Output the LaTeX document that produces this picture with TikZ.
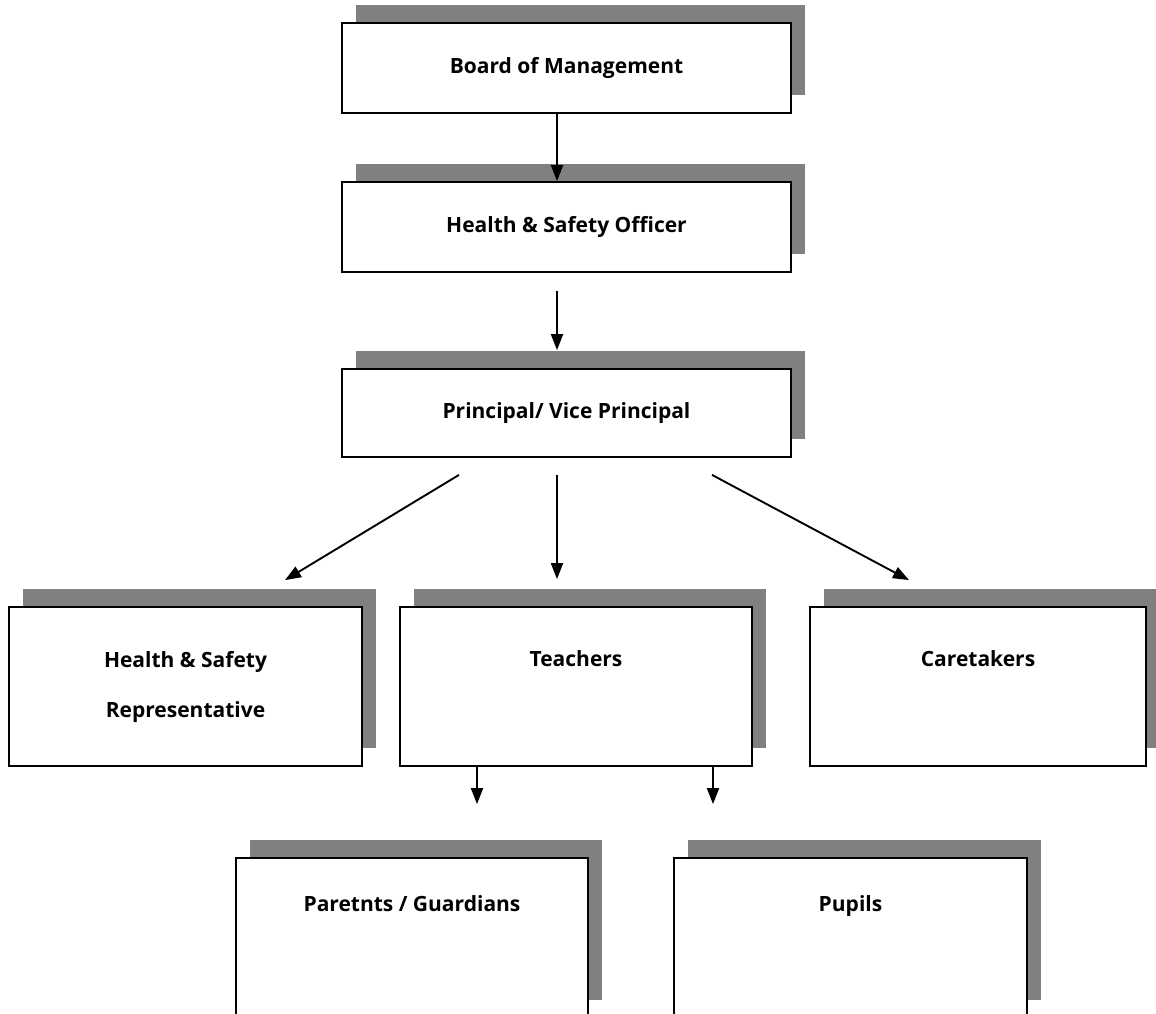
\documentclass[tikz,border=0pt]{standalone}
\usepackage{fontspec}
\setmainfont{Open Sans}
\usetikzlibrary{shadows,arrows.meta}
\definecolor{shadowgray}{HTML}{808080}
\tikzset{
  box/.style={draw=black, line width=1.8pt, fill=white, rectangle, inner sep=0pt,
    drop shadow={shadow xshift=14pt, shadow yshift=18pt, fill=shadowgray, opacity=1}},
  txt/.style={font=\fontsize{21}{50}\selectfont\bfseries, align=center, inner sep=0pt},
  lbl/.style={txt, text height=15pt, text depth=5pt},
  arr/.style={line width=1.9pt, -{Triangle[length=16pt,width=12pt]}}
}
\begin{document}
\begin{tikzpicture}[x=1pt,y=-1pt]
\useasboundingbox (0,0) rectangle (1156,1014);
\clip (0,0) rectangle (1156,1014);
% top chain
\node[box, minimum width=449pt, minimum height=90pt, txt] (board) at (566.5,68) {Board of Management};
\node[box, minimum width=449pt, minimum height=90pt, txt] (hso) at (566.5,227) {Health \& Safety Officer};
\node[box, minimum width=449pt, minimum height=88pt, txt] (prin) at (566.5,413) {Principal/ Vice Principal};
% middle row
\node[box, minimum width=353pt, minimum height=159pt, txt] (hsr) at (185.5,686.5) {Health \& Safety\\Representative};
\node[box, minimum width=352pt, minimum height=159pt] (teach) at (576,686.5) {};
\node[box, minimum width=336pt, minimum height=159pt] (care) at (978,686.5) {};
\node[lbl] (teachlbl) at (576,661) {Teachers};
\node[lbl] (carelbl) at (978,661) {Caretakers};
% bottom row
\node[box, minimum width=352pt, minimum height=160pt] (par) at (412,938) {};
\node[box, minimum width=353pt, minimum height=160pt] (pup) at (850.5,938) {};
\node[lbl] (parlbl) at (412,906) {Paretnts / Guardians};
\node[lbl] (puplbl) at (850.5,906) {Pupils};
% connectors
\draw[arr] ([xshift=-9.5pt]board.south) -- ([xshift=-9.5pt]hso.north);
\draw[arr] ([xshift=-9.5pt,yshift=-18pt]hso.south) -- ([xshift=-9.5pt,yshift=18pt]prin.north);
\draw[arr] ([xshift=-107.5pt,yshift=-17pt]prin.south) -- ([xshift=99.5pt,yshift=26pt]hsr.north);
\draw[arr] ([xshift=-9.5pt,yshift=-17pt]prin.south) -- ([xshift=-19pt,yshift=27pt]teach.north);
\draw[arr] ([xshift=145.5pt,yshift=-17pt]prin.south) -- ([xshift=-69pt,yshift=26pt]care.north);
\draw[arr] ([xshift=-99pt]teach.south) -- ([xshift=65pt,yshift=53pt]par.north);
\draw[arr] ([xshift=137pt]teach.south) -- ([xshift=-137.5pt,yshift=53pt]pup.north);
\end{tikzpicture}
\end{document}
